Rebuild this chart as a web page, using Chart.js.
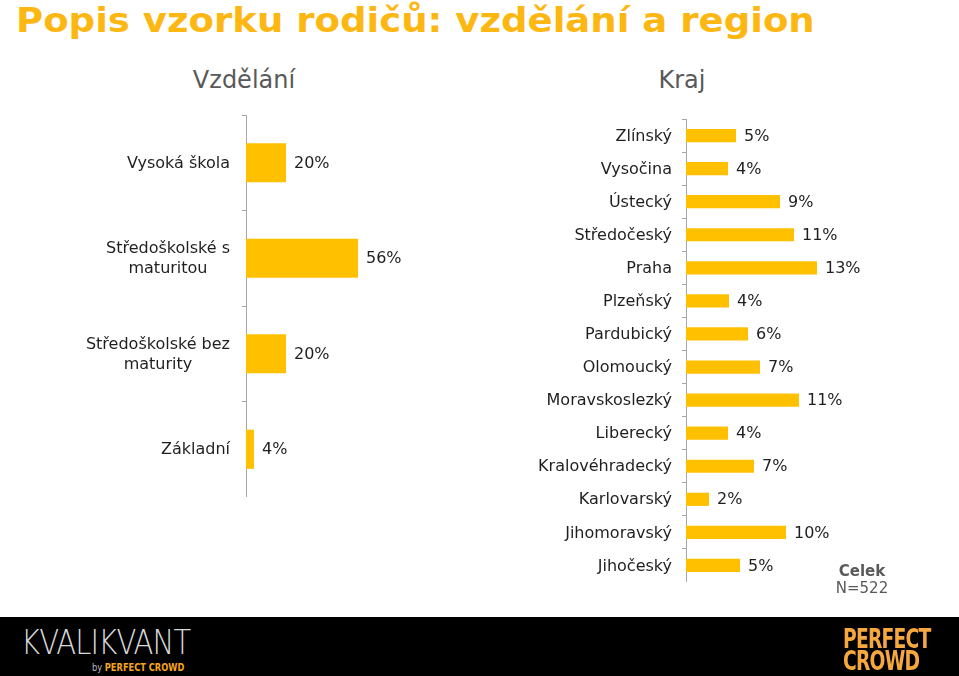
<!DOCTYPE html>
<html>
<head>
<meta charset="utf-8">
<script src="https://cdn.jsdelivr.net/npm/chart.js@4.4.1/dist/chart.umd.min.js"></script>
<style>
  body { margin: 0; width: 959px; height: 676px; background: #fff; position: relative; overflow: hidden; font-family: "DejaVu Sans", Verdana, sans-serif; }
  #title { position: absolute; left: 16px; top: 0px; font-family: "DejaVu Sans", Verdana, sans-serif; font-weight: bold; font-size: 34px; color: #FDB712; white-space: nowrap; transform: scaleX(1.09); transform-origin: left top; }
  .sub { position: absolute; top: 66px; font-size: 24px; color: #595959; transform: translateX(-50%); white-space: nowrap; }
  #leftBox { position: absolute; left: 0; top: 115px; width: 446px; height: 382px; }
  #rightBox { position: absolute; left: 430px; top: 119px; width: 456px; height: 463px; }
  #celek { position: absolute; left: 862px; top: 563px; transform: translateX(-50%); text-align: center; color: #595959; font-size: 15px; line-height: 17px; }
  #footer { position: absolute; left: 0; top: 617px; width: 959px; height: 59px; background: #000; }
  #kv { position: absolute; left: 21px; top: 6px; font-family: "DejaVu Sans ExtraLight", "DejaVu Sans", sans-serif; font-weight: 200; font-size: 33px; color: #d9d9d9; transform: scaleX(0.88); transform-origin: left top; letter-spacing: -1px; }
  #by { position: absolute; left: 92px; top: 45px; font-size: 10px; color: #bbb; font-family: "DejaVu Sans Condensed", sans-serif; transform: scaleX(0.92); transform-origin: left top; }
  #by b { color: #F7A51C; font-size: 10px; }
  #pc { position: absolute; left: 843px; top: 11px; width: 90px; font-family: "DejaVu Sans Condensed", sans-serif; font-weight: bold; color: #F6A83F; font-size: 26px; line-height: 22px; transform: scaleX(0.8); transform-origin: left top; letter-spacing: -1px; }
</style>
</head>
<body>
<div id="title">Popis vzorku rodičů: vzdělání a region</div>
<div class="sub" style="left:244px">Vzdělání</div>
<div class="sub" style="left:682px">Kraj</div>
<div id="leftBox"><canvas id="eduChart"></canvas></div>
<div id="rightBox"><canvas id="regionChart"></canvas></div>
<div id="celek"><b>Celek</b><br>N=522</div>
<div id="footer">
  <div id="kv">KVALIKVANT</div>
  <div id="by">by <b>PERFECT CROWD</b></div>
  <div id="pc">PERFECT<br>CROWD</div>
</div>
<script>
const eduLabels = [['Vysoká škola'], ['Středoškolské s', 'maturitou'], ['Středoškolské bez', 'maturity'], ['Základní']];
const eduValues = [20, 56, 20, 4];

const regionLabels = ['Zlínský', 'Vysočina', 'Ústecký', 'Středočeský', 'Praha', 'Plzeňský', 'Pardubický',
  'Olomoucký', 'Moravskoslezký', 'Liberecký', 'Kralovéhradecký', 'Karlovarský', 'Jihomoravský', 'Jihočeský'];
const regionValues = [5.0, 4.2, 9.4, 10.8, 13.1, 4.3, 6.2, 7.4, 11.3, 4.2, 6.8, 2.3, 10.0, 5.4];

const barColor = '#FFC000';
const textColor = '#1f1f1f';
const font = '16px "DejaVu Sans", Verdana, sans-serif';

// value labels right of the bars + category labels (multi-line ones centred as a block)
const labelsPlugin = {
  id: 'labelsPlugin',
  afterDatasetsDraw(chart, args, opts) {
    const ctx = chart.ctx;
    const meta = chart.getDatasetMeta(0);
    const yScale = chart.scales.y;
    ctx.save();
    ctx.font = font;
    ctx.fillStyle = textColor;
    ctx.textBaseline = 'middle';
    meta.data.forEach((bar, i) => {
      const v = chart.data.datasets[0].data[i];
      ctx.textAlign = 'left';
      ctx.fillText(Math.round(v) + '%', bar.x + 8, bar.y + 1);

      let lines = chart.data.labels[i];
      if (!Array.isArray(lines)) lines = [lines];
      const w = Math.max(...lines.map(l => ctx.measureText(l).width));
      const cx = yScale.right - opts.gap - w / 2;
      const cy = yScale.getPixelForTick(i);
      ctx.textAlign = 'center';
      lines.forEach((l, j) => {
        ctx.fillText(l, cx, cy + 1 + (j - (lines.length - 1) / 2) * 20);
      });
    });
    ctx.restore();
  }
};

function createBarChart(el, labels, data, max, axisWidth, gap, barPct) {
  return new Chart(el, {
    type: 'bar',
    data: {
      labels: labels,
      datasets: [{ data: data, backgroundColor: barColor, barPercentage: barPct, categoryPercentage: 1 }]
    },
    options: {
      indexAxis: 'y',
      responsive: true,
      maintainAspectRatio: false,
      animation: false,
      layout: { padding: 0 },
      plugins: { legend: { display: false }, tooltip: { enabled: false }, labelsPlugin: { gap: gap } },
      scales: {
        x: { display: false, min: 0, max: max },
        y: {
          afterFit(scale) {
            scale.width = axisWidth;
            scale.paddingTop = 0;
            scale.paddingBottom = 0;
          },
          grid: { drawOnChartArea: false, drawTicks: true, tickLength: 4, color: '#A6A6A6', offset: true },
          border: { color: '#A6A6A6', width: 1 },
          ticks: { display: false }
        }
      }
    },
    plugins: [labelsPlugin]
  });
}

createBarChart(document.getElementById('eduChart'), eduLabels, eduValues, 100, 246, 16, 0.41);
createBarChart(document.getElementById('regionChart'), regionLabels, regionValues, 20, 256, 14, 0.4);
</script>
</body>
</html>
